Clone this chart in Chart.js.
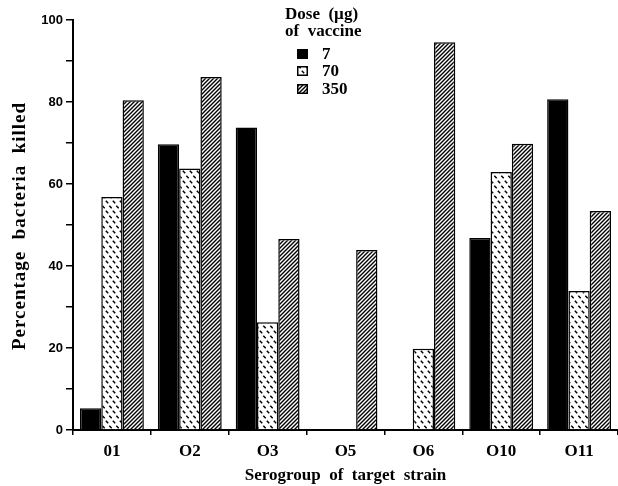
<!DOCTYPE html>
<html>
<head>
<meta charset="utf-8">
<script src="https://cdn.jsdelivr.net/npm/chart.js@4.4.1/dist/chart.umd.min.js"></script>
<style>
html,body{margin:0;padding:0;background:#fff;}
canvas{display:block;}
</style>
</head>
<body>
<canvas id="c" width="618" height="486"></canvas>
<script>
const categories = ['01', 'O2', 'O3', 'O5', 'O6', 'O10', 'O11'];
const dose7 = [5.3, 69.7, 73.8, 0, 0, 46.8, 80.7];
const dose70 = [56.8, 63.8, 26.3, 0, 19.8, 62.9, 33.9];
const dose350 = [80.4, 86.1, 46.6, 43.9, 94.6, 69.8, 53.4];
const seriesLabels = ['7', '70', '350'];
const yTicks = [0, 20, 40, 60, 80, 100];
const yTitle = 'Percentage  bacteria  killed';
const xTitle = 'Serogroup  of  target  strain';
const legendTitle = ['Dose  (\u00b5g)', 'of  vaccine'];

function hatchPattern() {
  const c = document.createElement('canvas');
  c.width = 4; c.height = 4;
  const g = c.getContext('2d');
  g.fillStyle = '#fff'; g.fillRect(0, 0, 4, 4);
  g.strokeStyle = '#000'; g.lineWidth = 1.4;
  g.beginPath();
  g.moveTo(-1, 5); g.lineTo(5, -1);
  g.moveTo(-1, 1); g.lineTo(1, -1);
  g.moveTo(3, 5); g.lineTo(5, 3);
  g.stroke();
  return g.createPattern(c, 'repeat');
}
function dashPattern() {
  const c = document.createElement('canvas');
  c.width = 7; c.height = 10;
  const g = c.getContext('2d');
  g.fillStyle = '#fff'; g.fillRect(0, 0, 7, 10);
  g.strokeStyle = '#000'; g.lineWidth = 1.5;
  g.beginPath();
  g.moveTo(0.8, 0.8); g.lineTo(3.2, 3.2);
  g.moveTo(4.3, 5.8); g.lineTo(6.7, 8.2);
  g.stroke();
  return g.createPattern(c, 'repeat');
}
const fills = ['#000', dashPattern(), hatchPattern()];

const textPlugin = {
  id: 'doseLegend',
  afterDraw(chart) {
    const ctx = chart.ctx;
    ctx.save();
    ctx.fillStyle = '#000';
    ctx.font = 'bold 17px "Liberation Serif"';
    ctx.textBaseline = 'middle';
    ctx.textAlign = 'left';
    ctx.fillText(legendTitle[0], 285, 15);
    ctx.fillText(legendTitle[1], 285, 32);
    const ys = [54, 71, 89];
    chart.data.datasets.forEach((ds, i) => {
      ctx.fillStyle = ds.backgroundColor;
      ctx.fillRect(297, ys[i] - 5, 11, 10);
      ctx.strokeStyle = '#000';
      ctx.lineWidth = 1.5;
      ctx.strokeRect(297.75, ys[i] - 4.25, 9.5, 8.5);
      ctx.fillStyle = '#000';
      ctx.fillText(ds.label, 322, ys[i] + 1);
    });
    ctx.restore();

    // y-axis title
    const ca = chart.chartArea;
    ctx.save();
    ctx.fillStyle = '#000';
    ctx.font = 'bold 19px "Liberation Serif"';
    try { ctx.letterSpacing = '1px'; } catch (e) {}
    ctx.textAlign = 'center';
    ctx.textBaseline = 'alphabetic';
    ctx.translate(25, (ca.top + ca.bottom) / 2 + 1);
    ctx.rotate(-Math.PI / 2);
    ctx.fillText(yTitle, 0, 0);
    ctx.restore();
  }
};

new Chart(document.getElementById('c'), {
  type: 'bar',
  data: {
    labels: categories,
    datasets: [
      { label: seriesLabels[0], data: dose7, backgroundColor: fills[0], borderColor: '#000', borderWidth: 1.5 },
      { label: seriesLabels[1], data: dose70, backgroundColor: fills[1], borderColor: '#000', borderWidth: 1.5 },
      { label: seriesLabels[2], data: dose350, backgroundColor: fills[2], borderColor: '#000', borderWidth: 1.5 }
    ]
  },
  options: {
    responsive: false,
    animation: false,
    devicePixelRatio: 1,
    layout: { padding: { top: 20, right: 0, bottom: 0, left: 0 } },
    datasets: { bar: { categoryPercentage: 0.82, barPercentage: 1.0 } },
    plugins: { legend: { display: false }, tooltip: { enabled: false } },
    scales: {
      x: {
        afterFit(s) { s.height = 56; },
        grid: { display: true, drawOnChartArea: false, drawTicks: true, tickLength: 5, color: '#000', lineWidth: 1.5, offset: true },
        border: { display: true, color: '#000', width: 2 },
        ticks: { color: '#000', font: { family: 'Liberation Serif', weight: 'bold', size: 17 }, padding: 6 },
        title: { display: true, text: xTitle, color: '#000', font: { family: 'Liberation Serif', weight: 'bold', size: 17 }, padding: { top: 0, bottom: 0 } }
      },
      y: {
        min: 0, max: 100,
        afterFit(s) { s.width = 73; },
        afterBuildTicks(s) {
          const t = [];
          for (let v = 0; v <= 100; v += 10) t.push({ value: v });
          s.ticks = t;
        },
        grid: { display: true, drawOnChartArea: false, drawTicks: true, tickLength: 7, color: '#000', lineWidth: 1.5 },
        border: { display: true, color: '#000', width: 2 },
        ticks: {
          color: '#000',
          font: { family: 'Liberation Sans', weight: 'bold', size: 13 },
          padding: 3,
          callback: (v) => yTicks.includes(v) ? String(v) : ''
        },
        title: { display: false }
      }
    }
  },
  plugins: [textPlugin]
});
</script>
</body>
</html>
